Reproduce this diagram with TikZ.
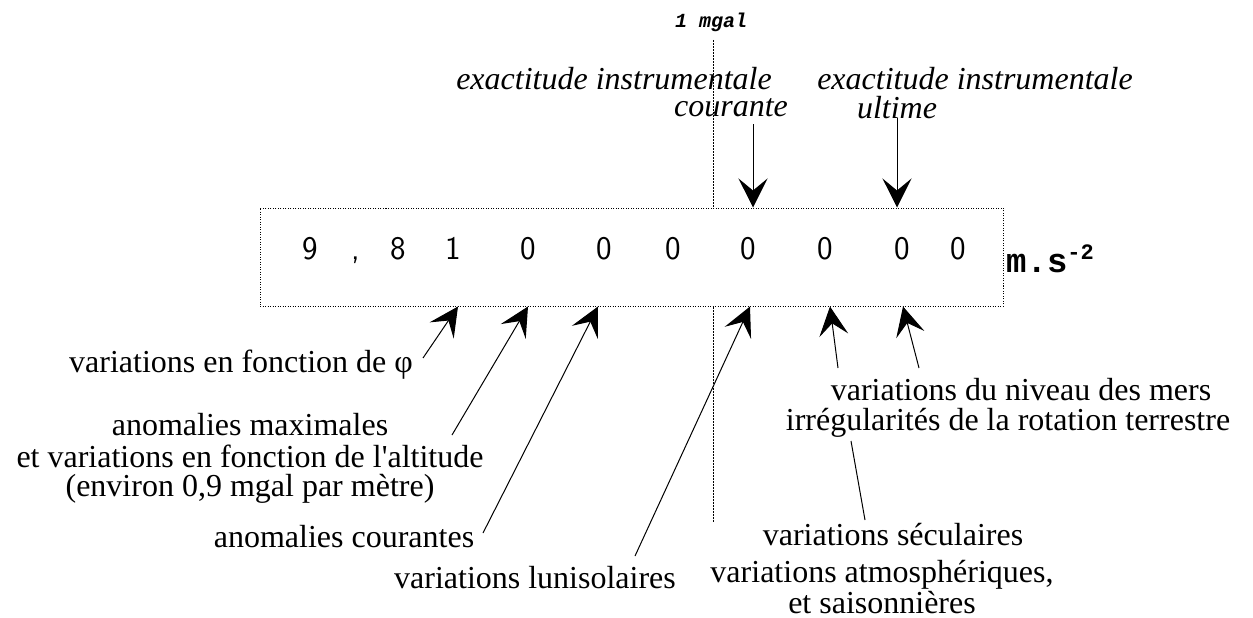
\documentclass[tikz,border=0pt]{standalone}
\usepackage{fontspec}
\setmainfont{Liberation Serif}
\newfontfamily\unitfont{Liberation Mono}
\usetikzlibrary{arrows.meta, positioning}

\tikzset{
  fleche/.style={line width=1pt, -{Stealth[length=29pt, width=29pt, inset=12pt]}},
  trait/.style={line width=1pt, dash pattern=on 2pt off 1pt},
  chiffre/.style={font=\sffamily\fontsize{33}{33}\selectfont, anchor=base, inner sep=0pt},
  legende/.style={font=\fontsize{32}{32}\selectfont, align=center, inner sep=0pt},
  italique/.style={legende, font=\fontsize{32}{32}\selectfont\itshape},
}

\begin{document}
\begin{tikzpicture}[x=1pt, y=-1pt]
\useasboundingbox (0,0) rectangle (1253,618);

% la valeur de g
\node[draw, line width=1pt, dash pattern=on 1pt off 1.5pt, minimum width=743pt, minimum height=98pt, inner sep=0pt] (boite) at (631.5,257) {};
\node[chiffre] (c1) at (310,259) {9};
\node[chiffre] (c2) at (356,259) {,};
\node[chiffre] (c3) at (398,259) {8};
\node[chiffre] (c4) at (453,259) {1};
\node[chiffre] (c5) at (528,259) {0};
\node[chiffre] (c6) at (604,259) {0};
\node[chiffre] (c7) at (673,259) {0};
\node[chiffre] (c8) at (748,259) {0};
\node[chiffre] (c9) at (825,259) {0};
\node[chiffre] (c10) at (902,259) {0};
\node[chiffre] (c11) at (958,259) {0};
\node[anchor=base west, inner sep=0pt] (unite) at (1006,272) {\unitfont\bfseries\fontsize{34}{34}\selectfont m.s\raisebox{13pt}{\fontsize{22}{22}\selectfont -2}};

% le mgal
\node[inner sep=0pt] (mgal) at (711,22) {\unitfont\bfseries\itshape\fontsize{20}{20}\selectfont 1 mgal};
\coordinate (m0) at (713,40);
\coordinate (m1) at (713,522);
\draw[trait] (m0) -- (m0 |- boite.north);
\draw[trait] (m1 |- boite.south) -- (m1);

% precision des instruments
\node[italique] (cour1) at (614,79) {exactitude instrumentale};
\node[italique] (cour2) at (731,108) {courante};
\node[italique] (ult1) at (975,79) {exactitude instrumentale};
\node[italique] (ult2) at (897,108) {ultime};
\coordinate (h1) at (753,124);
\coordinate (h2) at (897,118);
\draw[fleche] (h1) -- (h1 |- boite.north);
\draw[fleche] (h2) -- (h2 |- boite.north);

% causes des variations
\node[legende] (phi) at (241,365) {variations en fonction de φ};
\node[legende] (alt) at (250,458) {anomalies maximales\\[0pt] et variations en fonction de l\textquotesingle altitude\\[-3pt] (environ 0,9 mgal par mètre)};
\node[legende] (cour) at (344,537) {anomalies courantes};
\node[legende] (luni) at (535,578) {variations lunisolaires};
\node[legende] (mers) at (1021,390) {variations du niveau des mers};
\node[legende] (rot) at (1008,423) {irrégularités de la rotation terrestre};
\node[legende] (secu) at (893,535) {variations séculaires};
\node[legende] (atmo) at (882,587) {variations atmosphériques,\\[-1pt] et saisonnières};

\coordinate (b1) at (423,358);
\coordinate (b2) at (452,435);
\coordinate (b3) at (483,533);
\coordinate (b4) at (635,556);
\coordinate (b5) at (838,368);
\coordinate (b6) at (919,368);
\draw[fleche] (b1) -- (458,0 |- boite.south);
\draw[fleche] (b2) -- (528,0 |- boite.south);
\draw[fleche] (b3) -- (598,0 |- boite.south);
\draw[fleche] (b4) -- (750,0 |- boite.south);
\draw[fleche] (b5) -- (830,0 |- boite.south);
\draw[fleche] (b6) -- (903,0 |- boite.south);
\coordinate (s0) at (851,441);
\coordinate (s1) at (865,520);
\draw[line width=1pt] (s0) -- (s1);
\end{tikzpicture}
\end{document}
